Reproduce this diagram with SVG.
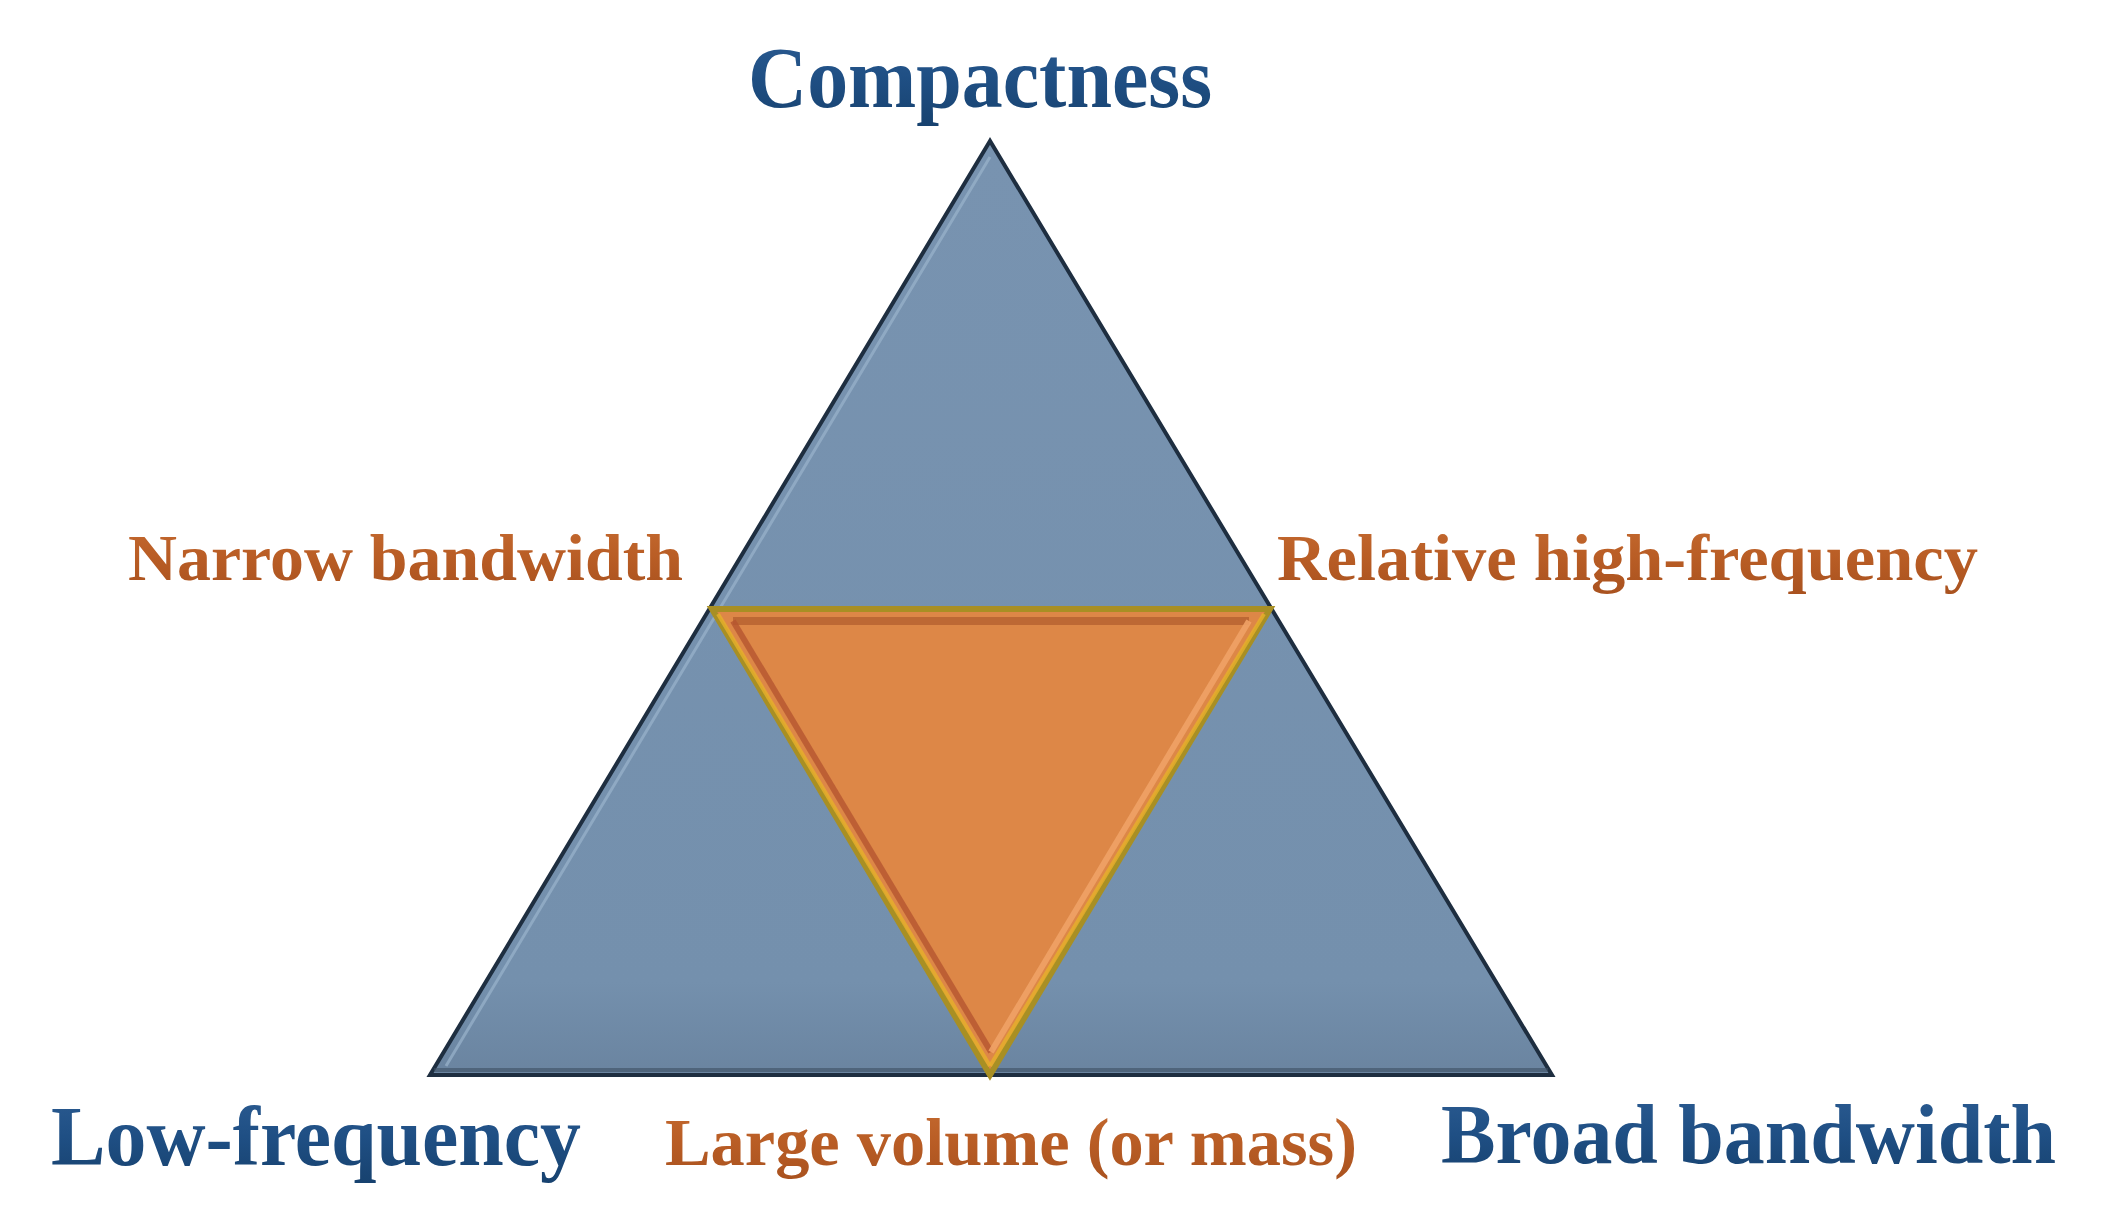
<svg xmlns="http://www.w3.org/2000/svg" width="2107" height="1221" viewBox="0 0 2107 1221">
<defs>
<linearGradient id="gBlue" x1="0" y1="0" x2="0" y2="1">
<stop offset="0" stop-color="#2c5c92"/>
<stop offset="0.5" stop-color="#1f4f84"/>
<stop offset="1" stop-color="#17426f"/>
</linearGradient>
<linearGradient id="gOrange" x1="0" y1="0" x2="0" y2="1">
<stop offset="0" stop-color="#c46a30"/>
<stop offset="0.5" stop-color="#b95d25"/>
<stop offset="1" stop-color="#a9521f"/>
</linearGradient>
<linearGradient id="gTri" x1="0" y1="0" x2="0" y2="1">
<stop offset="0" stop-color="#7893b0"/>
<stop offset="0.9" stop-color="#7490ad"/>
<stop offset="1" stop-color="#6a84a0"/>
</linearGradient>
<style>
.lb{font-family:"Liberation Serif","Times New Roman",serif;font-weight:bold;}
.blue{fill:url(#gBlue);}
.orange{fill:url(#gOrange);}
</style>
</defs>
<rect width="2107" height="1221" fill="#ffffff"/>
<g id="outer-triangle">
<polygon points="990,141 430,1075 1552,1075" fill="url(#gTri)" stroke="#1e2e40" stroke-width="4" stroke-linejoin="miter"/>
<polyline points="446,1066 990,157" fill="none" stroke="#9ab3cc" stroke-width="3" opacity="0.7"/>
<line x1="434" y1="1070" x2="1548" y2="1070" stroke="#3d4f63" stroke-width="4" opacity="0.6"/>
</g>
<g id="inner-triangle">
<polygon points="712,609 1270,609 990,1075" fill="#dd8747" stroke="#a88f24" stroke-width="6" stroke-linejoin="miter"/>
<polyline points="733,621 1249,621" fill="none" stroke="#b5602f" stroke-width="8" opacity="0.8"/>
<polyline points="733,621 991,1052" fill="none" stroke="#b55530" stroke-width="6" opacity="0.8"/>
<polyline points="1249,621 991,1052" fill="none" stroke="#f0a266" stroke-width="6" opacity="0.9"/>
<polyline points="718,614 990,1066" fill="none" stroke="#e6b02a" stroke-width="4" opacity="0.8"/>
<polyline points="1264,614 990,1066" fill="none" stroke="#e6b02a" stroke-width="4" opacity="0.8"/>
</g>
<g id="label-compactness"><text class="lb blue" x="748" y="107" font-size="86" textLength="464" lengthAdjust="spacingAndGlyphs">Compactness</text></g>
<g id="label-narrow"><text class="lb orange" x="128" y="580" font-size="66" textLength="555" lengthAdjust="spacingAndGlyphs">Narrow bandwidth</text></g>
<g id="label-relative"><text class="lb orange" x="1277" y="580" font-size="66" textLength="701" lengthAdjust="spacingAndGlyphs">Relative high-frequency</text></g>
<g id="label-low"><text class="lb blue" x="51" y="1165" font-size="84" textLength="530" lengthAdjust="spacingAndGlyphs">Low-frequency</text></g>
<g id="label-large"><text class="lb orange" x="665" y="1165" font-size="68" textLength="692" lengthAdjust="spacingAndGlyphs">Large volume (or mass)</text></g>
<g id="label-broad"><text class="lb blue" x="1441" y="1163" font-size="84" textLength="615" lengthAdjust="spacingAndGlyphs">Broad bandwidth</text></g>
<g id="connectors"></g>
</svg>
